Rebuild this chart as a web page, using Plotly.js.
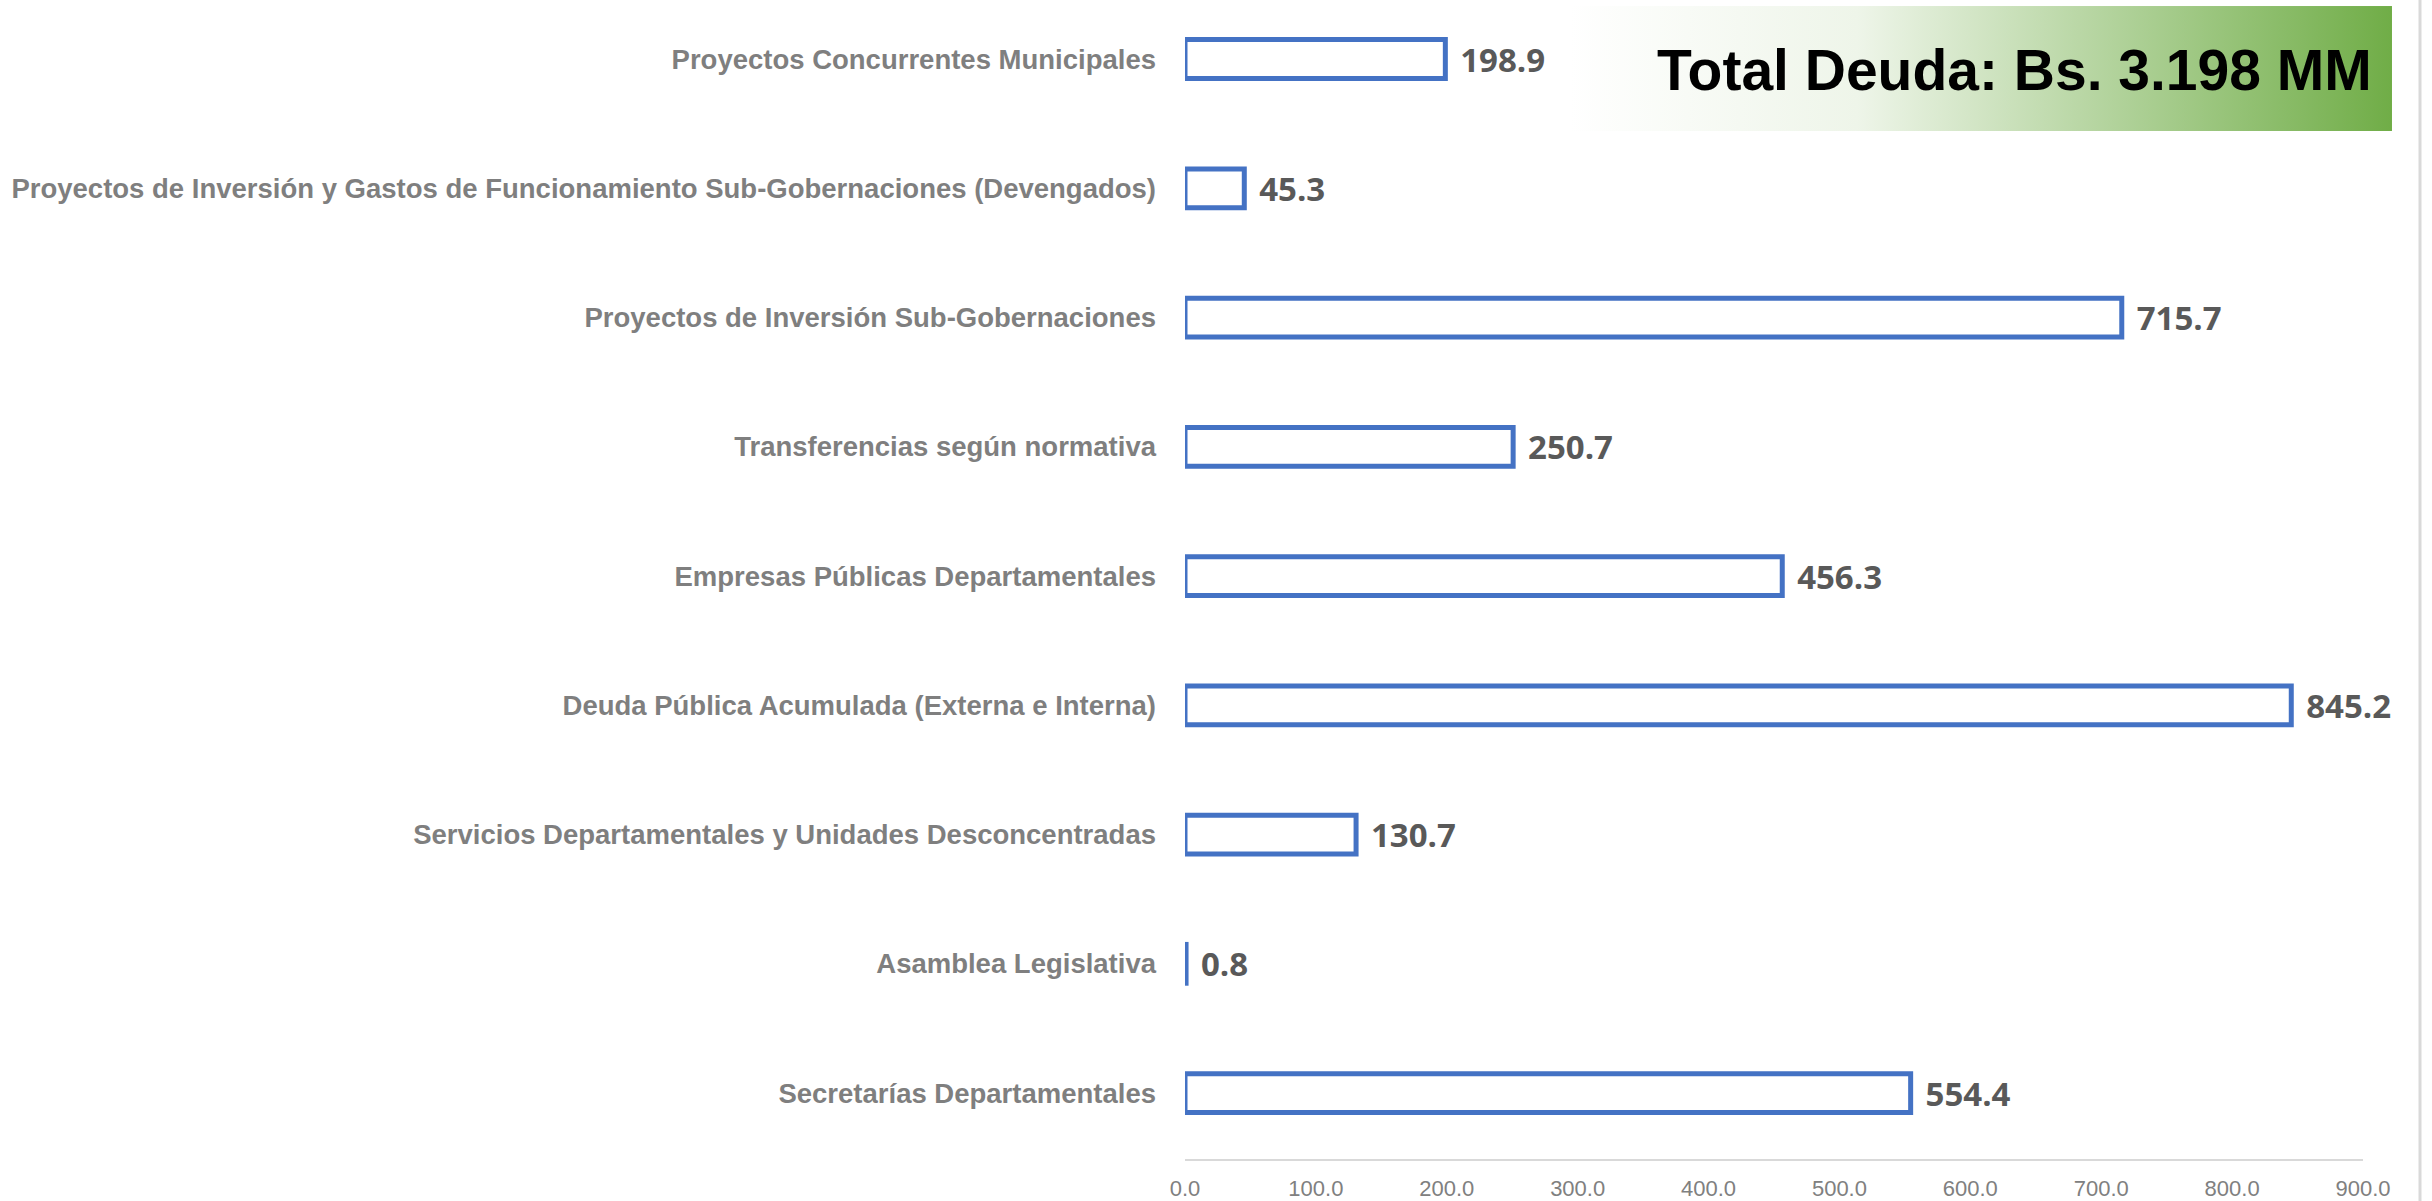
<!DOCTYPE html>
<html>
<head>
<meta charset="utf-8">
<script src="https://cdn.plot.ly/plotly-3.0.1.min.js"></script>
<style>html,body{margin:0;padding:0;background:#fff;}#chart{width:2432px;height:1201px;}</style>
</head>
<body>
<div id="chart"></div>
<script>
// Categories listed top to bottom as in the chart
const categories = [
  "Proyectos Concurrentes Municipales",
  "Proyectos de Inversión y Gastos de Funcionamiento Sub-Gobernaciones (Devengados)",
  "Proyectos de Inversión Sub-Gobernaciones",
  "Transferencias según normativa",
  "Empresas Públicas Departamentales",
  "Deuda Pública Acumulada (Externa e Interna)",
  "Servicios Departamentales y Unidades Desconcentradas",
  "Asamblea Legislativa",
  "Secretarías Departamentales"
];
const values = [198.9, 45.3, 715.7, 250.7, 456.3, 845.2, 130.7, 0.8, 554.4];
const tickVals = [0, 100, 200, 300, 400, 500, 600, 700, 800, 900];
const tickText = ["0.0", "100.0", "200.0", "300.0", "400.0", "500.0", "600.0", "700.0", "800.0", "900.0"];
const totalTitle = "Total Deuda: Bs. 3.198 MM";

const sans = '"Liberation Sans", Arial, sans-serif';

const trace = {
  type: 'bar',
  orientation: 'h',
  y: categories,
  x: values,
  width: 0.30,
  marker: {color: '#ffffff', line: {color: '#4472C4', width: 5}},
  texttemplate: '\u00a0\u200a%{x:.1f}',
  textposition: 'outside',
  constraintext: 'none',
  cliponaxis: false,
  textfont: {family: '"Open Sans", sans-serif', size: 33, color: '#595959', weight: 'bold'},
  hoverinfo: 'none'
};

const grad = 'data:image/svg+xml;utf8,' + encodeURIComponent(
  '<svg xmlns="http://www.w3.org/2000/svg" width="822" height="125" preserveAspectRatio="none">' +
  '<defs><linearGradient id="g" x1="0" y1="0" x2="1" y2="0">' +
  '<stop offset="0" stop-color="#ffffff"/><stop offset="0.35" stop-color="#eef5e9"/><stop offset="1" stop-color="#70AD47"/>' +
  '</linearGradient></defs><rect x="0" y="0" width="822" height="125" fill="url(#g)"/></svg>');

const layout = {
  width: 2432,
  height: 1201,
  margin: {l: 1185, r: 69, t: 0, b: 42, pad: 0},
  paper_bgcolor: '#ffffff',
  plot_bgcolor: '#ffffff',
  showlegend: false,
  xaxis: {
    range: [0, 900],
    tickvals: tickVals,
    ticktext: tickText,
    showgrid: false,
    zeroline: false,
    showline: true,
    linecolor: '#d9d9d9',
    linewidth: 2,
    ticks: '',
    ticklabelstandoff: 9,
    tickfont: {family: sans, size: 22, color: '#808080'}
  },
  yaxis: {
    type: 'category',
    range: [8.51, -0.4565],
    showgrid: false,
    zeroline: false,
    showline: false,
    ticks: '',
    ticklabelstandoff: 28,
    tickfont: {family: sans, size: 27.5, color: '#7f7f7f', weight: 'bold'}
  },
  images: [{
    source: grad,
    xref: 'paper', yref: 'paper',
    x: 0.3268, y: 0.9948,
    sizex: 0.6978, sizey: 0.1079,
    xanchor: 'left', yanchor: 'top',
    sizing: 'stretch',
    layer: 'below'
  }],
  annotations: [{
    text: totalTitle,
    xref: 'paper', yref: 'paper',
    x: 0.704, y: 0.9396,
    xanchor: 'center', yanchor: 'middle',
    showarrow: false,
    font: {family: sans, size: 57, color: '#000000', weight: 'bold'}
  }],
  shapes: [{
    type: 'line', xref: 'paper', yref: 'paper',
    x0: 1.0484, x1: 1.0484, y0: 1, y1: -0.04,
    line: {color: '#d9d9d9', width: 3}
  }]
};

Plotly.newPlot('chart', [trace], layout, {displayModeBar: false, staticPlot: true});
</script>
</body>
</html>
